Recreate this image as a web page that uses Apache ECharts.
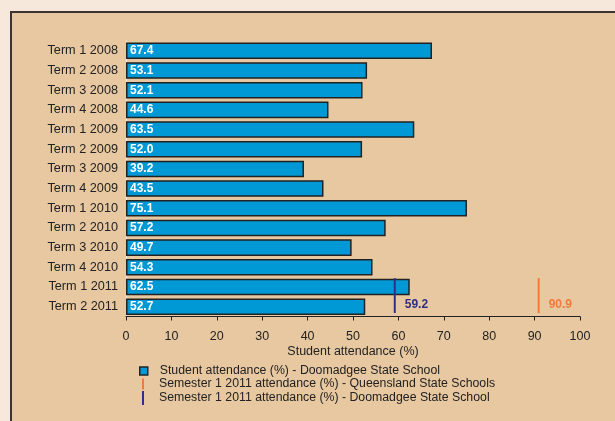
<!DOCTYPE html>
<html>
<head>
<meta charset="utf-8">
<script src="https://cdn.jsdelivr.net/npm/echarts@6/dist/echarts.min.js"></script>
<style>
  html, body { margin: 0; padding: 0; background: #f6e9dc; }
  #chart { width: 615px; height: 421px; }
</style>
</head>
<body>
<div id="chart"></div>
<script>
// data
const terms = [
  'Term 1 2008', 'Term 2 2008', 'Term 3 2008', 'Term 4 2008',
  'Term 1 2009', 'Term 2 2009', 'Term 3 2009', 'Term 4 2009',
  'Term 1 2010', 'Term 2 2010', 'Term 3 2010', 'Term 4 2010',
  'Term 1 2011', 'Term 2 2011'
]
const attendance = [67.4, 53.1, 52.1, 44.6, 63.5, 52.0, 39.2, 43.5, 75.1, 57.2, 49.7, 54.3, 62.5, 52.7]
const qldSemester = 90.9
const schoolSemester = 59.2
const semesterTerms = ['Term 1 2011', 'Term 2 2011']

const nameBars = 'Student attendance (%) - Doomadgee State School'
const nameQld = 'Semester 1 2011 attendance (%) - Queensland State Schools'
const nameSchool = 'Semester 1 2011 attendance (%) - Doomadgee State School'

const font = 'Liberation Sans, Arial, sans-serif'
const orange = '#f47a38'
const navy = '#2e2f8c'

// vertical marker spanning the two 2011 rows
const markerItem = (color) => (params, api) => {
  const v = api.value(0)
  const a = api.coord([v, api.value(1)])
  const b = api.coord([v, api.value(2)])
  const band = api.size([0, 1])[1]
  const top = a[1] - band * 0.45
  const bottom = b[1] + band * 0.32
  return {
    type: 'group',
    children: [
      { type: 'line', shape: { x1: a[0], y1: top, x2: a[0], y2: bottom }, style: { stroke: color, lineWidth: 2 } },
      {
        type: 'text',
        x: a[0] + 10, y: b[1] - 2,
        style: { text: v.toFixed(1), fill: color, font: 'bold 12px ' + font, verticalAlign: 'middle' }
      }
    ]
  }
}

const legendText = { fontFamily: font, fontSize: 12.3, color: '#222' }

const chart = echarts.init(document.getElementById('chart'))
chart.setOption({
  backgroundColor: 'transparent',
  animation: false,
  graphic: [{
    type: 'rect', z: -10, silent: true,
    shape: { x: 11, y: 12, width: 700, height: 500 },
    style: { fill: '#e8c8a0', stroke: '#3a3432', lineWidth: 2 }
  }],
  grid: { left: 126, right: 35, top: 41, bottom: 104.5 },
  legend: [
    {
      left: 139, top: 365, padding: 0, orient: 'vertical', selectedMode: false,
      itemWidth: 8, itemHeight: 8,
      textStyle: { ...legendText, padding: [0, 0, 0, 7] },
      data: [{ name: nameBars, icon: 'rect', itemStyle: { color: '#0099d6', borderColor: '#222', borderWidth: 1.5 } }]
    },
    {
      left: 142, top: 378, padding: 0, orient: 'vertical', selectedMode: false,
      itemWidth: 2, itemHeight: 11,
      textStyle: { ...legendText, padding: [0, 0, 0, 10] },
      data: [{ name: nameQld, icon: 'rect', itemStyle: { color: orange, borderWidth: 0 } }]
    },
    {
      left: 142, top: 391, padding: 0, orient: 'vertical', selectedMode: false,
      itemWidth: 2, itemHeight: 14,
      textStyle: { ...legendText, padding: [0, 0, 0, 10] },
      data: [{ name: nameSchool, icon: 'rect', itemStyle: { color: navy, borderWidth: 0 } }]
    }
  ],
  xAxis: {
    type: 'value',
    min: 0, max: 100, interval: 10,
    name: 'Student attendance (%)',
    nameLocation: 'middle',
    nameGap: 29,
    nameMoveOverlap: false,
    nameTextStyle: { fontFamily: font, fontSize: 12.5, color: '#222' },
    axisLine: { show: true, lineStyle: { color: '#222', width: 1 } },
    axisTick: { show: true, length: 4, lineStyle: { color: '#222' } },
    axisLabel: { fontFamily: font, fontSize: 12.5, color: '#222', margin: 14 },
    splitLine: { show: false }
  },
  yAxis: {
    type: 'category',
    inverse: true,
    data: terms,
    axisLine: { show: true, lineStyle: { color: '#f4eee6', width: 1 } },
    axisTick: { show: false },
    axisLabel: { fontFamily: font, fontSize: 12.7, color: '#222', margin: 8 }
  },
  series: [
    {
      name: nameBars,
      type: 'bar',
      data: attendance,
      barCategoryGap: '16%',
      itemStyle: { color: '#0099d6', borderColor: '#222', borderWidth: 1.5 },
      label: {
        show: true,
        position: 'insideLeft',
        distance: 4,
        formatter: (p) => p.value.toFixed(1),
        fontFamily: font, fontSize: 12, fontWeight: 'bold', color: '#fff'
      }
    },
    {
      name: nameQld,
      type: 'custom',
      itemStyle: { color: orange },
      encode: { x: 0, y: 1 },
      data: [[qldSemester, terms.indexOf(semesterTerms[0]), terms.indexOf(semesterTerms[1])]],
      renderItem: markerItem(orange),
      z: 5
    },
    {
      name: nameSchool,
      type: 'custom',
      itemStyle: { color: navy },
      encode: { x: 0, y: 1 },
      data: [[schoolSemester, terms.indexOf(semesterTerms[0]), terms.indexOf(semesterTerms[1])]],
      renderItem: markerItem(navy),
      z: 5
    }
  ]
})
</script>
</body>
</html>
